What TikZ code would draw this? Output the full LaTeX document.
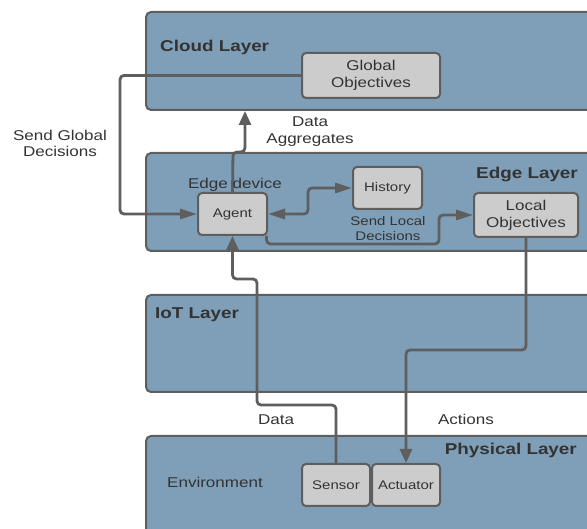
\documentclass[tikz,border=0pt]{standalone}
\usepackage{fontspec}
\setmainfont{Liberation Sans}[FakeStretch=1.2]
\usetikzlibrary{arrows.meta,calc}
\definecolor{layerfill}{HTML}{7F9FB8}
\definecolor{edgegray}{HTML}{5E5E5E}
\definecolor{boxfill}{HTML}{CCCCCC}
\definecolor{txt}{HTML}{333333}
\begin{document}
\begin{tikzpicture}[x=1pt,y=-1pt,
  layer/.style={draw=edgegray, line width=2pt, fill=layerfill, rounded corners=5pt},
  comp/.style={draw=edgegray, line width=2pt, fill=boxfill, rounded corners=4pt,
    align=center, font=\fontsize{12.5}{14.5}\selectfont, text=txt, inner sep=0pt},
  bigcomp/.style={comp, font=\fontsize{14.2}{17}\selectfont},
  title/.style={font=\fontsize{15.7}{18}\selectfont\bfseries, text=txt, inner sep=0pt},
  lbl/.style={font=\fontsize{14.2}{16.5}\selectfont, text=txt, align=center, inner sep=0pt},
  smalllbl/.style={lbl, font=\fontsize{12.5}{14.5}\selectfont},
  wire/.style={draw=edgegray, line width=2.8pt, rounded corners=4pt},
  vtip/.style={-{Triangle[length=14pt,width=12pt]}},
  htip/.style={-{Triangle[length=17pt,width=10pt]}},
  twotip/.style={{Triangle[length=17pt,width=10pt]}-{Triangle[length=17pt,width=10pt]}}
]
\useasboundingbox (0,0) rectangle (587,529);
\clip (0,0) rectangle (587,529);

% layers
\draw[layer] (146,12) rectangle (605,110);
\draw[layer] (146,153) rectangle (605,251);
\draw[layer] (146,295) rectangle (605,392);
\draw[layer] (146,436) rectangle (605,560);

\node[title, anchor=west] (tcloud) at (160,47.5) {Cloud Layer};
\node[title, anchor=east] (tedge) at (578,174.5) {Edge Layer};
\node[title, anchor=west] (tiot) at (155,315) {IoT Layer};
\node[title, anchor=east] (tphys) at (577,450) {Physical Layer};

% components
\node[bigcomp, minimum width=138pt, minimum height=45pt] (glob) at (371,75.5) {Global\\Objectives};
\node[comp, minimum width=69pt, minimum height=42pt] (agent) at (232.5,214) {Agent};
\node[comp, minimum width=69pt, minimum height=42pt] (hist) at (387.5,188) {History};
\node[bigcomp, minimum width=104pt, minimum height=44pt] (local) at (526,215) {Local\\Objectives};
\node[comp, minimum width=68pt, minimum height=42pt] (sensor) at (336,485) {Sensor};
\node[comp, minimum width=68pt, minimum height=42pt] (act) at (406,485) {Actuator};

% connector helper points
\coordinate (cloudbase) at (245,111);
\coordinate (agentout) at ($(agent.south east)+(-1.5,0)$);

% connectors
\draw[wire,htip] (glob.west) -- (120,75.5) |- (agent.west);
\draw[wire,vtip] (agent.north) -- (233,152) -- (245,152) -- (cloudbase);
\draw[wire,twotip] (agent.east) -- (308,214) -- (308,188) -- (hist.west);
\draw[wire,htip] (agentout) -- (agentout |- 0,244) -- (439,244) -- (439,215) -- (local.west);
\draw[wire,vtip] (sensor.north) -- (336,405) -- (257,405) -- (257,279) -- (232.5,279) -- (agent.south);
\draw[wire,vtip] (local.south) -- (526,350) -- (406,350) -- (act.north);

% labels
\node[lbl] (lsgd) at (60,143.5) {Send Global\\Decisions};
\node[lbl] (lda) at (310,131.5) {Data\\Aggregates};
\node[lbl] (ledge) at (235,185) {Edge device};
\node[smalllbl] (lsld) at (388,228.5) {Send Local\\Decisions};
\node[lbl] (ldata) at (276,419.5) {Data};
\node[lbl] (lact) at (466,419.5) {Actions};
\node[lbl] (lenv) at (215,482.5) {Environment};
\end{tikzpicture}
\end{document}
